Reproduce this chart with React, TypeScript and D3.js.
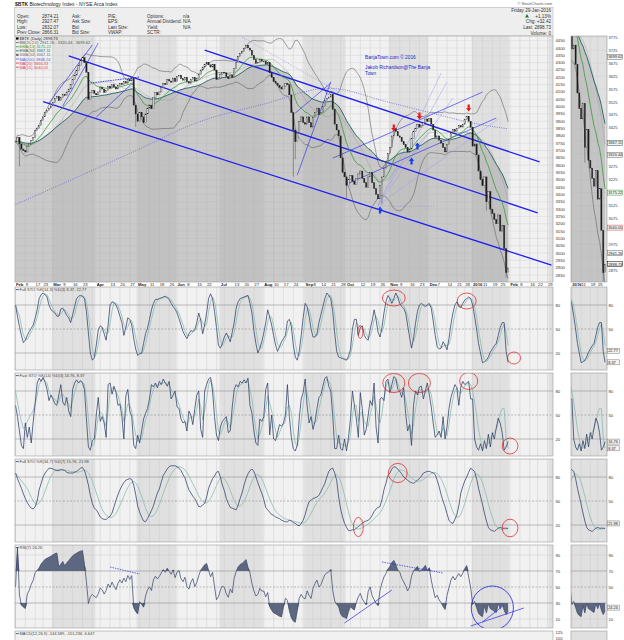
import React from "react";
import * as d3 from "d3";

const FONT = "'Liberation Sans', Arial, Helvetica, sans-serif";

// ---------- trading calendar ----------
const holidays = [
  "2015-02-16", "2015-04-03", "2015-05-25", "2015-07-03", "2015-09-07",
  "2015-11-26", "2015-12-25", "2016-01-01", "2016-01-18", "2016-02-15",
];

// ---------- daily closes (one array per month) ----------
const feb15 = [3760, 3790, 3745, 3710, 3700, 3690, 3730, 3745, 3770, 3790, 3835, 3850, 3870, 3905, 3930, 3960, 3975, 3990, 4005];
const mar15 = [4030, 4055, 4070, 4040, 4060, 4085, 4075, 4100, 4120, 4150, 4185, 4215, 4245, 4280, 4315, 4335, 4300, 4235, 4050, 4095, 4110, 4090];
const apr15 = [4080, 4100, 4130, 4120, 4095, 4110, 4140, 4125, 4150, 4135, 4120, 4145, 4160, 4150, 4170, 4160, 4185, 4175, 4190, 4010, 3950];
const may15 = [3900, 3960, 3930, 3890, 3950, 3990, 4010, 3985, 4060, 4095, 4080, 4100, 4130, 4160, 4150, 4185, 4175, 4165, 4195, 4170];
const jun15 = [4205, 4215, 4190, 4180, 4200, 4170, 4160, 4185, 4200, 4175, 4190, 4220, 4250, 4270, 4290, 4300, 4285, 4270, 4290, 4250, 4185, 4195];
const jul15 = [4220, 4235, 4230, 4205, 4190, 4215, 4200, 4260, 4300, 4340, 4365, 4375, 4395, 4420, 4400, 4385, 4350, 4320, 4295, 4300, 4320, 4310];
const aug15 = [4310, 4290, 4300, 4230, 4200, 4170, 4160, 4145, 4130, 4120, 4140, 4160, 4150, 4080, 3960, 3840, 3760, 3820, 3900, 3930, 3890];
const sep15 = [3880, 3930, 3890, 3860, 3925, 3960, 3990, 3945, 3960, 4000, 4040, 4055, 4065, 4085, 3980, 3880, 3840, 3800, 3650, 3550, 3520];
const oct15 = [3460, 3500, 3530, 3490, 3470, 3510, 3540, 3560, 3510, 3480, 3450, 3520, 3550, 3480, 3440, 3400, 3370, 3460, 3520, 3580, 3620, 3680];
const nov15 = [3720, 3800, 3850, 3830, 3800, 3790, 3760, 3740, 3720, 3690, 3710, 3780, 3830, 3850, 3880, 3860, 3870, 3890, 3915, 3900];
const dec15 = [3920, 3880, 3840, 3790, 3800, 3770, 3750, 3720, 3690, 3740, 3775, 3820, 3845, 3830, 3850, 3870, 3860, 3880, 3910, 3935, 3900, 3860];
const jan16 = [3730, 3745, 3670, 3560, 3500, 3460, 3520, 3350, 3420, 3300, 3270, 3230, 3200, 3260, 3150, 3190, 3030, 2866.31, 2898.73];
const closes = [...feb15, ...mar15, ...apr15, ...may15, ...jun15, ...jul15, ...aug15, ...sep15, ...oct15, ...nov15, ...dec15, ...jan16];

// a few long wicks that stand out on the candles (date, low)
const wickLows: [string, number][] = [
  ["2015-02-04", 3590], ["2015-04-30", 3860], ["2015-08-24", 3519], ["2015-08-25", 3640],
  ["2015-10-01", 3375], ["2015-10-27", 3330], ["2016-01-13", 3290], ["2016-01-28", 2832],
];

// Full STO %K (14,3), per month
const k14Feb = [80, 66, 53, 42, 33, 36, 42, 47, 51, 55, 64, 74, 88, 93, 95, 93, 90, 80, 74];
const k14Mar = [72, 70, 66, 66, 75, 76, 72, 67, 64, 58, 68, 78, 88, 91, 92, 91, 88, 72, 45, 20, 11, 14];
const k14Apr = [30, 49, 54, 52, 44, 36, 55, 80, 84, 83, 80, 74, 66, 58, 42, 52, 64, 62, 55, 38, 25];
const k14May = [17, 19, 20, 32, 44, 51, 62, 74, 82, 87, 87, 88, 89, 90, 91, 89, 87, 82, 78, 75];
const k14Jun = [70, 63, 55, 47, 42, 38, 44, 48, 47, 49, 58, 70, 61, 44, 55, 70, 88, 94, 88, 72, 52, 30];
const k14Jul = [26, 32, 40, 45, 40, 34, 46, 58, 76, 84, 88, 89, 90, 91, 92, 82, 70, 48, 32, 20, 26, 34];
const k14Aug = [45, 58, 74, 65, 55, 42, 30, 22, 28, 34, 38, 42, 60, 62, 53, 30, 15, 11, 22, 42, 64];
const k14Sep = [82, 78, 66, 50, 40, 40, 44, 58, 68, 78, 88, 95, 92, 88, 72, 45, 22, 15, 14, 13, 12];
const k14Oct = [11, 16, 24, 50, 62, 62, 42, 52, 54, 42, 38, 36, 50, 60, 74, 62, 46, 40, 52, 70, 84, 92];
const k14Nov = [88, 82, 88, 95, 90, 82, 78, 76, 70, 55, 40, 26, 38, 57, 72, 80, 82, 80, 78, 80];
const k14Dec = [82, 76, 60, 42, 28, 25, 26, 34, 30, 24, 38, 56, 70, 80, 84, 78, 77, 82, 86, 88, 90, 88];
const k14Jan = [80, 66, 50, 32, 20, 8, 9, 11, 15, 21, 25, 29, 32, 42, 52, 58, 58, 22, 8.37];
const fullK14 = [...k14Feb, ...k14Mar, ...k14Apr, ...k14May, ...k14Jun, ...k14Jul, ...k14Aug, ...k14Sep, ...k14Oct, ...k14Nov, ...k14Dec, ...k14Jan];

// Fast STO %K (14), per month
const fkFeb = [62, 48, 30, 12, 8, 40, 22, 35, 15, 42, 65, 90, 96, 92, 97, 91, 82, 68, 75];
const fkMar = [70, 64, 62, 75, 88, 66, 62, 72, 55, 48, 82, 90, 94, 90, 93, 90, 82, 45, 10, 6, 18, 20];
const fkApr = [50, 72, 42, 48, 40, 22, 88, 90, 76, 86, 78, 62, 64, 48, 20, 74, 82, 55, 48, 12, 8];
const fkMay = [25, 15, 30, 45, 52, 58, 70, 88, 85, 90, 84, 92, 88, 95, 90, 86, 92, 70, 75, 80];
const fkJun = [60, 58, 45, 40, 42, 30, 55, 50, 38, 58, 75, 80, 32, 22, 80, 88, 95, 97, 80, 48, 25, 18];
const fkJul = [35, 42, 45, 48, 28, 30, 60, 82, 88, 85, 92, 90, 94, 90, 96, 62, 52, 30, 15, 12, 45, 42];
const fkAug = [48, 82, 90, 25, 50, 20, 18, 28, 38, 36, 40, 50, 88, 48, 22, 8, 5, 12, 45, 70, 78];
const fkSep = [95, 62, 40, 48, 32, 42, 58, 72, 75, 86, 96, 98, 86, 80, 50, 8, 8, 25, 8, 6, 20];
const fkOct = [5, 22, 45, 80, 62, 45, 22, 78, 58, 25, 32, 50, 68, 62, 90, 35, 15, 70, 72, 68, 92, 95];
const fkNov = [78, 88, 98, 96, 82, 80, 72, 84, 52, 30, 38, 12, 62, 80, 75, 85, 86, 70, 80, 90];
const fkDec = [76, 60, 40, 22, 25, 30, 22, 48, 20, 35, 58, 72, 80, 88, 84, 62, 85, 92, 88, 90, 92, 70];
const fkJan = [70, 20, 10, 6, 14, 5, 18, 8, 26, 10, 28, 20, 34, 46, 40, 28, 6, 10, 16.76];
const fastK14 = [...fkFeb, ...fkMar, ...fkApr, ...fkMay, ...fkJun, ...fkJul, ...fkAug, ...fkSep, ...fkOct, ...fkNov, ...fkDec, ...fkJan];

// slow Full STO %K, per month
const kSlowFeb = [85, 78, 72, 66, 59, 53, 48, 44, 41, 40, 43, 50, 64, 72, 80, 85, 88, 91, 91];
const kSlowMar = [90, 89, 88, 88, 89, 89, 88, 86, 85, 85, 85, 86, 87, 89, 91, 92, 88, 80, 70, 57, 47, 41];
const kSlowApr = [39, 35, 30, 28, 27, 27, 29, 31, 35, 43, 51, 58, 64, 69, 73, 76, 77, 78, 77, 70, 58];
const kSlowMay = [44, 36, 30, 25, 24, 28, 33, 38, 44, 52, 60, 65, 74, 82, 86, 90, 93, 94, 94, 94];
const kSlowJun = [93, 91, 88, 83, 79, 71, 64, 60, 56, 53, 48, 43, 43, 45, 47, 55, 66, 72, 78, 81, 86, 87];
const kSlowJul = [80, 70, 63, 53, 47, 42, 41, 40, 39, 45, 53, 60, 70, 78, 84, 88, 90, 87, 80, 73, 66, 60];
const kSlowAug = [52, 42, 39, 36, 33, 32, 30, 29, 28, 26, 25, 24, 24, 26, 25, 23, 22, 20, 19, 22, 26];
const kSlowSep = [33, 42, 49, 51, 53, 54, 55, 57, 62, 67, 72, 80, 87, 90, 91, 85, 76, 55, 40, 30, 22];
const kSlowOct = [17, 13, 13, 14, 14, 16, 18, 20, 22, 24, 25, 26, 28, 32, 37, 40, 42, 43, 52, 64, 72, 82];
const kSlowNov = [85, 90, 93, 92, 90, 87, 84, 80, 78, 76, 74, 73, 72, 74, 76, 78, 81, 85, 86, 87];
const kSlowDec = [87, 86, 85, 83, 76, 68, 58, 50, 43, 34, 26, 23, 22, 27, 33, 44, 60, 68, 75, 80, 86, 91];
const kSlowJan = [89, 87, 78, 66, 56, 46, 35, 25, 17, 14, 13, 12, 14, 16, 17, 16, 16, 16, 15.76];
const fullKSlow = [...kSlowFeb, ...kSlowMar, ...kSlowApr, ...kSlowMay, ...kSlowJun, ...kSlowJul, ...kSlowAug, ...kSlowSep, ...kSlowOct, ...kSlowNov, ...kSlowDec, ...kSlowJan];

// 200-day moving average (longer history than the chart shows)
const ma200Pts: [string, number][] = [
  ["2015-02-02", 3330], ["2015-03-17", 3510], ["2015-05-01", 3705], ["2015-06-15", 3890],
  ["2015-08-03", 4017], ["2015-09-18", 4125], ["2015-10-30", 4031], ["2015-12-01", 3960],
  ["2016-01-04", 3888], ["2016-01-29", 3848],
];

// ---------- header ----------
const quoteNames = ["Open:", "High:", "Low:", "Prev Close:"];
const quoteValues = ["2874.21", "2927.47", "2832.07", "2866.31"];
const bookNames = ["Ask:", "Ask Size:", "Bid:", "Bid Size:"];
const ratioNames = ["P/E:", "EPS:", "Last Size:", "VWAP:"];
const extraNames = ["Options:", "Annual Dividend:", "Yield:", "SCTR:"];
const extraValues = ["n/a", "N/A", "N/A", ""];
const lastBlock = ["Friday 29-Jan-2016", "+1.13%", "Chg: +32.42", "Last: 2898.73", "Volume: 0"];

const legendMain: [string, string, boolean][] = [
  ["$BTK (Daily) 2898.73", "#000000", true],
  ["BB(20,2.0) 2941.26 - 3320.44 - 3699.62", "#555555", false],
  ["EMA(13) 3175.22", "#3a9a3a", false],
  ["EMA(34) 3367.11", "#1f5f5f", false],
  ["SMA(34) 3367.11", "#777777", true],
  ["MA(200) 3848.24", "#5a5ad0", false],
  ["MA(20) 3666.33", "#e04040", false],
  ["MA(15) 3040.05", "#e04040", false],
];

const xTicks: [string, string][] = [
  ["2015-02-02", "Feb"], ["2015-02-09", "9"], ["2015-02-17", "17"], ["2015-02-23", "23"],
  ["2015-03-02", "Mar"], ["2015-03-09", "9"], ["2015-03-16", "16"], ["2015-03-23", "23"],
  ["2015-04-01", "Apr"], ["2015-04-13", "13"], ["2015-04-20", "20"], ["2015-04-27", "27"],
  ["2015-05-01", "May"], ["2015-05-11", "11"], ["2015-05-18", "18"], ["2015-05-26", "26"],
  ["2015-06-01", "Jun"], ["2015-06-08", "8"], ["2015-06-15", "15"], ["2015-06-22", "22"],
  ["2015-07-01", "Jul"], ["2015-07-13", "13"], ["2015-07-20", "20"], ["2015-07-27", "27"],
  ["2015-08-03", "Aug"], ["2015-08-10", "10"], ["2015-08-17", "17"], ["2015-08-24", "24"],
  ["2015-09-01", "Sep"], ["2015-09-08", "8"], ["2015-09-14", "14"], ["2015-09-21", "21"], ["2015-09-28", "28"],
  ["2015-10-01", "Oct"], ["2015-10-12", "12"], ["2015-10-19", "19"], ["2015-10-26", "26"],
  ["2015-11-02", "Nov"], ["2015-11-09", "9"], ["2015-11-16", "16"], ["2015-11-23", "23"],
  ["2015-12-01", "Dec"], ["2015-12-07", "7"], ["2015-12-14", "14"], ["2015-12-21", "21"], ["2015-12-28", "28"],
  ["2016-01-04", "2016"], ["2016-01-11", "11"], ["2016-01-19", "19"], ["2016-01-25", "25"],
  ["2016-02-01", "Feb"], ["2016-02-08", "8"], ["2016-02-16", "16"], ["2016-02-22", "22"], ["2016-02-29", "29"],
];
const miniTicks: [string, string][] = [["2016-01-04", "2016"], ["2016-01-11", "11"], ["2016-01-19", "19"], ["2016-01-25", "25"]];

// ---------- annotations drawn by the chartist (date, price) ----------
const channelLines: [string, number, string, number][] = [
  ["2015-06-19", 4386, "2016-02-23", 3622],
  ["2015-03-12", 4346, "2016-02-22", 3274],
  ["2015-02-23", 4034, "2016-03-02", 2918],
];
const thinBlueLines: [string, number, string, number][] = [
  ["2015-02-26", 4025, "2015-03-30", 4421],
  ["2015-03-09", 4004, "2015-04-02", 4434],
  ["2015-04-01", 3928, "2015-04-29", 4168],
  ["2015-08-26", 3532, "2015-09-21", 4168],
  ["2015-08-25", 3956, "2015-09-21", 4161],
  ["2015-09-22", 3648, "2016-01-11", 4099],
  ["2015-10-01", 3470, "2016-01-21", 3922],
];
const dashedBlueLines: [string, number, string, number][] = [
  ["2015-03-27", 4161, "2015-05-04", 4202],
];
const fanLines: [string, number, string, number][] = [
  ["2015-10-23", 3327, "2015-12-09", 4229],
  ["2015-10-23", 3327, "2015-12-14", 4168],
  ["2015-10-23", 3327, "2015-12-17", 4058],
  ["2015-10-23", 3327, "2016-01-22", 3915],
];
const dottedFanLines: [string, number, string, number][] = [
  ["2015-10-23", 3320, "2015-12-04", 3320],
  ["2015-07-17", 4475, "2015-09-25", 4099],
];
const downArrows: [string, number][] = [["2015-11-04", 3830], ["2015-11-23", 3912], ["2015-12-30", 3966]];
const upArrows: [string, number][] = [["2015-10-26", 3317], ["2015-11-17", 3652], ["2015-11-20", 3755]];

// red rings on the oscillators: panel, date, value, half-width in days, half-height in points
const rings: [number, string, number, number, number][] = [
  [0, "2015-10-12", 46.25, 1.3, 8], [0, "2015-11-04", 88.75, 5.8, 10], [0, "2015-12-29", 85, 4.8, 10], [0, "2016-02-03", 13.75, 3.3, 7.5],
  [1, "2015-11-04", 90, 5.6, 12], [1, "2015-11-23", 90, 5.6, 12], [1, "2015-12-30", 92.5, 4.6, 10.6], [1, "2016-02-01", 11.25, 4, 10],
  [2, "2015-11-06", 85, 4.8, 12], [2, "2015-10-09", 17.5, 2.5, 12], [2, "2016-02-01", 16.25, 4, 11],
];
const rsiLines: [string, number, string, number, boolean][] = [
  ["2015-09-30", 5, "2015-11-03", 46.25, false],
  ["2015-10-27", 81.25, "2015-12-10", 67.5, true],
  ["2015-12-31", 1.25, "2016-02-10", 23.75, false],
  ["2016-01-11", 6.25, "2016-01-27", 27.5, false],
  ["2015-04-13", 75, "2015-05-04", 66.25, true],
];
const rsiCircle: [string, number, number, number] = ["2016-01-19", 23.75, 10.7, 27.5];

const panelLabels = [
  "Full STO %K(14,3) %D(3) 8.37, 22.77",
  "Fast STO %K(14) %D(3) 16.76, 8.37",
  "Full STO %K(34,7) %D(7) 15.76, 21.98",
  "RSI(7) 24.26",
];
const panelTags = [[22.77, 8.37], [16.76, 8.37], [21.98], [24.26]];
const priceTags: [number, string][] = [
  [3699.62, "#666666"], [3367.11, "#1f5f5f"], [3320.44, "#666666"], [3175.22, "#3a9a3a"],
  [3040.05, "#e04040"], [2941.26, "#666666"], [2898.73, "#000000"],
];

// ---------- indicator maths ----------
function ema(a: number[], n: number) {
  const k = 2 / (n + 1);
  let e = a[0];
  return a.map((v, i) => (e = i === 0 ? v : v * k + e * (1 - k)));
}
function sma(a: number[], n: number) {
  return a.map((_, i) => d3.mean(a.slice(Math.max(0, i - n + 1), i + 1)) as number);
}
function sdev(a: number[], n: number) {
  return a.map((_, i) => {
    const w = a.slice(Math.max(0, i - n + 1), i + 1);
    const m = d3.mean(w) as number;
    return Math.sqrt(d3.mean(w, (v) => (v - m) ** 2) as number);
  });
}
function rsi(a: number[], n: number) {
  let g = 0, l = 0;
  const out = [50];
  for (let i = 1; i < a.length; i++) {
    const ch = a[i] - a[i - 1];
    const up = Math.max(ch, 0), dn = Math.max(-ch, 0);
    if (i <= n) { g += up / n; l += dn / n; }
    else { g = (g * (n - 1) + up) / n; l = (l * (n - 1) + dn) / n; }
    out.push(l === 0 ? 100 : 100 - 100 / (1 + g / l));
  }
  return out;
}
// push overlapping tags apart (y positions, sorted)
function spread(ys: number[], gap: number) {
  const order = ys.map((y, i) => [y, i]).sort((a, b) => a[0] - b[0]);
  const out = ys.slice();
  let last = -1e9;
  order.forEach(([y, i]) => { const v = Math.max(y, last + gap); out[i] = v; last = v; });
  return out;
}

export default function App() {
  const parse = d3.utcParse("%Y-%m-%d");
  const fmt = d3.utcFormat("%Y-%m-%d");
  const days = d3.utcDays(parse("2015-02-02") as Date, parse("2016-03-05") as Date).filter((d) => {
    const w = d.getUTCDay();
    return w !== 0 && w !== 6 && !holidays.includes(fmt(d));
  });
  const dayStr = days.map(fmt);
  const idx = (s: string) => {
    const k = dayStr.findIndex((d) => d >= s);
    return k < 0 ? dayStr.length - 1 : k;
  };

  const opens = closes.map((c, i) => (i ? closes[i - 1] : c));
  const lows = closes.map((c, i) => Math.min(c, opens[i]));
  wickLows.forEach(([d, v]) => { lows[idx(d)] = v; });
  const e13 = ema(closes, 13);
  const e34 = ema(closes, 34);
  const mid = sma(closes, 20);
  const sd = sdev(closes, 20);
  const bbU = mid.map((m, i) => m + 2 * sd[i]);
  const bbL = mid.map((m, i) => m - 2 * sd[i]);
  const d1 = sma(fullK14, 3);
  const kSlowD = sma(fullKSlow, 7);
  const rs = rsi(closes, 7);

  const X0 = 15, X1 = 553, MX0 = 571, MX1 = 607;
  const xM = d3.scaleLinear().domain([0, 270]).range([15.5, 547.5]);
  const xm = d3.scaleLinear().domain([231.5, 250.5]).range([571, 606]);
  const yP = d3.scaleLinear().domain([2850, 4450]).range([275, 40.7]);
  const ym = d3.scaleLinear().domain([2830, 3780]).range([282, 36]);
  const MAIN_T = 36, MAIN_B = 282;

  const lineOf = (vals: number[], xs: any, ys: any, from = 0) => {
    const pts: [number, number][] = [];
    for (let i = from; i < vals.length; i++) pts.push([xs(i), ys(vals[i])]);
    return d3.line()(pts) ?? "";
  };

  const months: { a: number; b: number; m: number }[] = [];
  dayStr.forEach((s, i) => {
    const m = +s.slice(5, 7);
    const last = months[months.length - 1];
    if (!last || last.m !== m) months.push({ a: i, b: i, m });
    else last.b = i;
  });
  const weekStarts = days.map((_, i) => i).filter((i) => i === 0 || days[i].getUTCDay() < days[i - 1].getUTCDay());
  const step = xM(1) - xM(0);

  const bands = (xs: any, top: number, h: number) =>
    months.filter((m) => m.m % 2 === 1).map((m, k) => (
      <rect key={"b" + k} x={xs(m.a) - step / 2} y={top} width={xs(m.b) - xs(m.a) + step} height={h} fill="#e0e0e0" />
    ));
  const vgrid = (xs: any, top: number, h: number) =>
    weekStarts.map((i) => <line key={"w" + i} x1={xs(i)} x2={xs(i)} y1={top} y2={top + h} stroke="#cdcdcd" strokeWidth={0.5} />);

  const candles = (xs: any, ys: any, from: number, w: number) =>
    closes.slice(from).map((c, j) => {
      const i = from + j;
      const o = opens[i];
      const y1 = ys(Math.max(o, c)), y2 = ys(Math.min(o, c));
      const down = c < o;
      return (
        <g key={"c" + i}>
          {lows[i] < Math.min(o, c) && (
            <line x1={xs(i)} x2={xs(i)} y1={y2} y2={ys(lows[i])} stroke="#333" strokeWidth={0.4} />
          )}
          <rect x={xs(i) - w / 2} y={y1} width={w} height={Math.max(0.7, y2 - y1)}
            fill={down ? "#1c1c1c" : "#dedede"} stroke="#262626" strokeWidth={0.35} />
        </g>
      );
    });

  const seg = (l: [string, number, string, number], ys: any, key: string, props: any) => (
    <line key={key} x1={xM(idx(l[0]))} y1={ys(l[1])} x2={xM(idx(l[2]))} y2={ys(l[3])} {...props} />
  );

  const ma200Path = (xs: any, ys: any) =>
    d3.line().curve(d3.curveMonotoneX)(ma200Pts.map(([d, v]) => [xs(idx(d)), ys(v)] as [number, number])) ?? "";

  const txt = (x: number, y: number, s: string, extra: any = {}) => (
    <text x={x} y={y} fontFamily={FONT} fontSize={4.6} fill="#333" {...extra}>{s}</text>
  );

  const panelTops = [287, 373, 459, 545];
  const PH = 83;
  const panelSeries = [
    [[d1, "#86b8b0"], [fullK14, "#2c3e66"]],
    [[fullK14, "#86b8b0"], [fastK14, "#2c3e66"]],
    [[kSlowD, "#86b8b0"], [fullKSlow, "#2c3e66"]],
    [[rs, "#3c4a6b"]],
  ] as [number[], string][][];

  const priceTagY = spread(priceTags.map(([v]) => ym(v)), 5.4);

  return (
    <svg width={624} height={640} style={{ position: "absolute", left: 0, top: 0, background: "#fff" }}>
      <defs>
        <clipPath id="cMain"><rect x={X0} y={MAIN_T} width={X1 - X0} height={MAIN_B - MAIN_T} /></clipPath>
        <clipPath id="cMini"><rect x={MX0} y={MAIN_T} width={MX1 - MX0} height={MAIN_B - MAIN_T} /></clipPath>
        {panelTops.map((t, p) => (
          <React.Fragment key={p}>
            <clipPath id={"cp" + p}><rect x={X0} y={t} width={X1 - X0} height={PH} /></clipPath>
            <clipPath id={"cm" + p}><rect x={MX0} y={t} width={MX1 - MX0} height={PH} /></clipPath>
          </React.Fragment>
        ))}
      </defs>

      {/* header */}
      <text x={15} y={6.3} fontFamily={FONT} fontSize={5} fill="#222">
        <tspan fontWeight="bold">$BTK</tspan> Biotechnology Index - NYSE Arca Index
      </text>
      {txt(552, 4.5, "© StockCharts.com", { textAnchor: "end", fontSize: 4, fill: "#555" })}
      <rect x={14.5} y={7.5} width={538.5} height={28.5} fill="#eeeeee" stroke="#b8b8b8" strokeWidth={0.6} />
      {quoteNames.map((s, r) => (
        <g key={"q" + r}>
          {txt(17, 17.5 + r * 5.6, s)}
          {txt(42, 17.5 + r * 5.6, quoteValues[r])}
          {txt(72, 17.5 + r * 5.6, bookNames[r])}
          {txt(108, 17.5 + r * 5.6, ratioNames[r])}
          {txt(147, 17.5 + r * 5.6, extraNames[r])}
          {txt(183, 17.5 + r * 5.6, extraValues[r])}
        </g>
      ))}
      {lastBlock.map((s, r) => txt(551, 11.8 + r * 5.8, s, { key: "l" + r, textAnchor: "end" }))}
      <path d="M525,17.6 l2,-3.6 l2,3.6 Z" fill="#1c7a2c" />

      {/* ---------- main price panel ---------- */}
      <rect x={X0} y={MAIN_T} width={X1 - X0} height={MAIN_B - MAIN_T} fill="#f1f1f1" />
      <g clipPath="url(#cMain)">
        {bands(xM, MAIN_T, MAIN_B - MAIN_T)}
        {d3.range(2850, 4451, 50).map((v) => (
          <line key={"h" + v} x1={X0} x2={X1} y1={yP(v)} y2={yP(v)} stroke="#d4d4d4" strokeWidth={0.5} />
        ))}
        {vgrid(xM, MAIN_T, MAIN_B - MAIN_T)}
        <path d={d3.area<number>().x((_, i) => xM(i)).y0(MAIN_B).y1((v) => yP(v))(e34) ?? ""} fill="#a8a8a8" opacity={0.55} />
        <path d={lineOf(bbU, xM, yP)} fill="none" stroke="#5a5a5a" strokeWidth={0.55} />
        <path d={lineOf(bbL, xM, yP)} fill="none" stroke="#5a5a5a" strokeWidth={0.55} />
        <path d={lineOf(mid, xM, yP)} fill="none" stroke="#9a9a9a" strokeWidth={0.45} />
        <path d={ma200Path(xM, yP)} fill="none" stroke="#6464d8" strokeWidth={0.8} strokeDasharray="1,1.3" />
        {fanLines.map((l, k) => seg(l, yP, "f" + k, { stroke: "#9c9cf0", strokeWidth: 0.5 }))}
        {dottedFanLines.map((l, k) => seg(l, yP, "df" + k, { stroke: "#8c8ce8", strokeWidth: 0.6, strokeDasharray: "1,1.2" }))}
        {thinBlueLines.map((l, k) => seg(l, yP, "t" + k, { stroke: "#3a3aee", strokeWidth: 0.7 }))}
        {dashedBlueLines.map((l, k) => seg(l, yP, "db" + k, { stroke: "#2a2ae8", strokeWidth: 0.9, strokeDasharray: "1.5,1" }))}
        {channelLines.map((l, k) => seg(l, yP, "ch" + k, { stroke: "#1f1ff0", strokeWidth: 1.3 }))}
        <path d={lineOf(e34, xM, yP)} fill="none" stroke="#1f5f5f" strokeWidth={0.9} />
        <path d={lineOf(e13, xM, yP)} fill="none" stroke="#3a9a3a" strokeWidth={0.8} />
        {candles(xM, yP, 0, 1.3)}
        {downArrows.map(([d, p], k) => (
          <path key={"da" + k} transform={`translate(${xM(idx(d))},${yP(p)})`} d="M-1.1,-7 h2.2 v3.6 h1.6 L0,0 L-2.7,-3.4 h1.6 Z" fill="#e81b1b" />
        ))}
        {upArrows.map(([d, p], k) => (
          <path key={"ua" + k} transform={`translate(${xM(idx(d))},${yP(p)})`} d="M-1.1,7 h2.2 v-3.6 h1.6 L0,0 L-2.7,3.4 h1.6 Z" fill="#1b3fe8" />
        ))}
        <text fontFamily={FONT} fontSize={4.8} fill="#2525c8">
          <tspan x={365} y={58.5}>BanjaTown.com © 2016</tspan>
          <tspan x={365} y={69}>Jakob Richardson@The Banja</tspan>
          <tspan x={365} y={75}>Town</tspan>
        </text>
      </g>
      {legendMain.map(([s, c, box], k) => (
        <g key={"lg" + k}>
          {box
            ? <rect x={16} y={37.4 + k * 4.1} width={2.6} height={2.2} fill={c} />
            : <line x1={15.8} x2={18.8} y1={38.5 + k * 4.1} y2={38.5 + k * 4.1} stroke={c} strokeWidth={0.8} />}
          {txt(19.5, 40 + k * 4.1, s, { fontSize: 4, fill: c === "#000000" ? "#222" : c })}
        </g>
      ))}
      <rect x={X0} y={MAIN_T} width={X1 - X0} height={MAIN_B - MAIN_T} fill="none" stroke="#9a9a9a" strokeWidth={0.6} />
      {d3.range(2850, 4451, 50).map((v) => txt(555.5, yP(v) + 1.5, String(v), { key: "pa" + v, fontSize: 4.2 }))}

      {/* ---------- mini price panel ---------- */}
      <rect x={MX0} y={MAIN_T} width={MX1 - MX0} height={MAIN_B - MAIN_T} fill="#e0e0e0" />
      <g clipPath="url(#cMini)">
        {d3.range(2875, 3780, 50).map((v) => (
          <line key={"mh" + v} x1={MX0} x2={MX1} y1={ym(v)} y2={ym(v)} stroke="#d0d0d0" strokeWidth={0.5} />
        ))}
        {vgrid(xm, MAIN_T, MAIN_B - MAIN_T)}
        <path d={d3.area<number>().x((_, i) => xm(i)).y0(MAIN_B).y1((v) => ym(v))(e34) ?? ""} fill="#a8a8a8" opacity={0.5} />
        <path d={lineOf(bbU, xm, ym, 225)} fill="none" stroke="#5a5a5a" strokeWidth={0.55} />
        <path d={lineOf(bbL, xm, ym, 225)} fill="none" stroke="#5a5a5a" strokeWidth={0.55} />
        <path d={lineOf(mid, xm, ym, 225)} fill="none" stroke="#9a9a9a" strokeWidth={0.45} />
        <path d={ma200Path(xm, ym)} fill="none" stroke="#6464d8" strokeWidth={0.8} strokeDasharray="1,1.3" />
        <path d={lineOf(e34, xm, ym, 225)} fill="none" stroke="#1f5f5f" strokeWidth={0.9} />
        <path d={lineOf(e13, xm, ym, 225)} fill="none" stroke="#3a9a3a" strokeWidth={0.8} />
        {candles(xm, ym, 229, 1.2)}
      </g>
      <rect x={MX0} y={MAIN_T} width={MX1 - MX0} height={MAIN_B - MAIN_T} fill="none" stroke="#9a9a9a" strokeWidth={0.6} />
      {d3.range(2875, 3780, 50)
        .filter((v) => priceTagY.every((ty) => Math.abs(ty - ym(v)) > 5.2))
        .map((v) => txt(608.5, ym(v) + 1.5, String(v), { key: "ma" + v, fontSize: 4 }))}
      {priceTags.map(([v, c], k) => (
        <g key={"pt" + k}>
          <rect x={607.5} y={priceTagY[k] - 2.5} width={15} height={5} fill="#f3f3f3" stroke={c} strokeWidth={0.5} />
          {txt(608.2, priceTagY[k] + 1.4, v.toFixed(2), { fontSize: 3.9, fill: "#222" })}
        </g>
      ))}

      {/* ---------- date axis ---------- */}
      {xTicks.map(([d, s]) =>
        txt(xM(idx(d)) + 0.4, 286.3, s, { key: "xt" + d, fontSize: 4.2, fontWeight: isNaN(+s) || s === "2016" ? "bold" : "normal", fill: "#222" })
      )}
      {miniTicks.map(([d, s]) =>
        txt(xm(idx(d)) + 0.3, 286.3, s, { key: "mt" + d, fontSize: 4.2, fontWeight: s === "2016" ? "bold" : "normal", fill: "#222" })
      )}

      {/* ---------- indicator panels ---------- */}
      {panelTops.map((top, p) => {
        const yv = d3.scaleLinear().domain([0, 100]).range([top + 82, top + 2]);
        const isRsi = p === 3;
        const guides = isRsi ? [90, 70, 50, 30, 10] : [80, 50, 20];
        const strong = isRsi ? [70, 30] : [80, 20];
        const tagY = spread(panelTags[p].map((v) => yv(v)), 5.4);
        const body = (xs: any, from: number) => (
          <>
            {guides.map((g) => (
              <line key={"g" + g} x1={0} x2={624} y1={yv(g)} y2={yv(g)}
                stroke={g === 50 || strong.includes(g) ? "#8a8a8a" : "#cfcfcf"}
                strokeWidth={0.55} strokeDasharray={g === 50 ? "2,1.5" : undefined} />
            ))}
            {isRsi && (
              <>
                <path d={d3.area<number>().x((_, i) => xs(i)).y0(yv(70)).y1((v) => yv(Math.max(v, 70)))(rs) ?? ""} fill="#5d6780" />
                <path d={d3.area<number>().x((_, i) => xs(i)).y0(yv(30)).y1((v) => yv(Math.min(v, 30)))(rs) ?? ""} fill="#5d6780" />
              </>
            )}
            {panelSeries[p].map(([vals, c], k) => (
              <path key={"s" + k} d={lineOf(vals, xs, yv, from)} fill="none" stroke={c} strokeWidth={0.75} />
            ))}
          </>
        );
        return (
          <g key={"p" + p}>
            <rect x={X0} y={top} width={X1 - X0} height={PH} fill="#f1f1f1" />
            <g clipPath={`url(#cp${p})`}>
              {bands(xM, top, PH)}
              {vgrid(xM, top, PH)}
              {body(xM, 0)}
              {p < 3 && rings.filter((r) => r[0] === p).map((r, k) => (
                <ellipse key={"r" + k} cx={xM(idx(r[1]))} cy={yv(r[2])} rx={r[3] * step} ry={yv(0) - yv(r[4])}
                  fill="none" stroke="#e01818" strokeWidth={0.7} />
              ))}
              {isRsi && (
                <>
                  {rsiLines.map((l, k) => (
                    <line key={"rl" + k} x1={xM(idx(l[0]))} y1={yv(l[1])} x2={xM(idx(l[2]))} y2={yv(l[3])}
                      stroke="#2a2ae8" strokeWidth={0.7} strokeDasharray={l[4] ? "1.5,1" : undefined} />
                  ))}
                  <ellipse cx={xM(idx(rsiCircle[0]))} cy={yv(rsiCircle[1])} rx={rsiCircle[2] * step} ry={yv(0) - yv(rsiCircle[3])}
                    fill="none" stroke="#1f1fe0" strokeWidth={0.8} />
                </>
              )}
            </g>
            <rect x={X0} y={top} width={X1 - X0} height={PH} fill="none" stroke="#9a9a9a" strokeWidth={0.6} />
            <line x1={15.8} x2={18.8} y1={top + 2.6} y2={top + 2.6} stroke="#2c3e66" strokeWidth={0.8} />
            {txt(19.5, top + 4, panelLabels[p], { fontSize: 4, fill: "#444" })}
            {guides.map((g) => txt(555.5, yv(g) + 1.5, String(g), { key: "ga" + g, fontSize: 4.2 }))}

            <rect x={MX0} y={top} width={MX1 - MX0} height={PH} fill="#e0e0e0" />
            <g clipPath={`url(#cm${p})`}>
              {vgrid(xm, top, PH)}
              {body(xm, 228)}
            </g>
            <rect x={MX0} y={top} width={MX1 - MX0} height={PH} fill="none" stroke="#9a9a9a" strokeWidth={0.6} />
            {guides
              .filter((g) => tagY.every((ty) => Math.abs(ty - yv(g)) > 5))
              .map((g) => txt(608.5, yv(g) + 1.5, String(g), { key: "gm" + g, fontSize: 4.2 }))}
            {panelTags[p].map((v, k) => (
              <g key={"tg" + k}>
                <rect x={607.5} y={tagY[k] - 2.5} width={12} height={5} fill="#f3f3f3" stroke="#777" strokeWidth={0.5} />
                {txt(608.2, tagY[k] + 1.4, v.toFixed(2), { fontSize: 3.9, fill: "#222" })}
              </g>
            ))}
          </g>
        );
      })}

      {/* ---------- MACD panel (cut off at the bottom) ---------- */}
      <rect x={X0} y={631} width={X1 - X0} height={12} fill="#f1f1f1" stroke="#9a9a9a" strokeWidth={0.6} />
      <rect x={MX0} y={631} width={MX1 - MX0} height={12} fill="#e0e0e0" stroke="#9a9a9a" strokeWidth={0.6} />
      <line x1={15.8} x2={18.8} y1={633.6} y2={633.6} stroke="#2c3e66" strokeWidth={0.8} />
      {txt(19.5, 635, "MACD(12,26,9) -144.589, -151.236, 6.647", { fontSize: 4, fill: "#444" })}
      {txt(555.5, 634, "125", { fontSize: 4.2 })}
      {txt(555.5, 639.5, "100", { fontSize: 4.2 })}
    </svg>
  );
}
